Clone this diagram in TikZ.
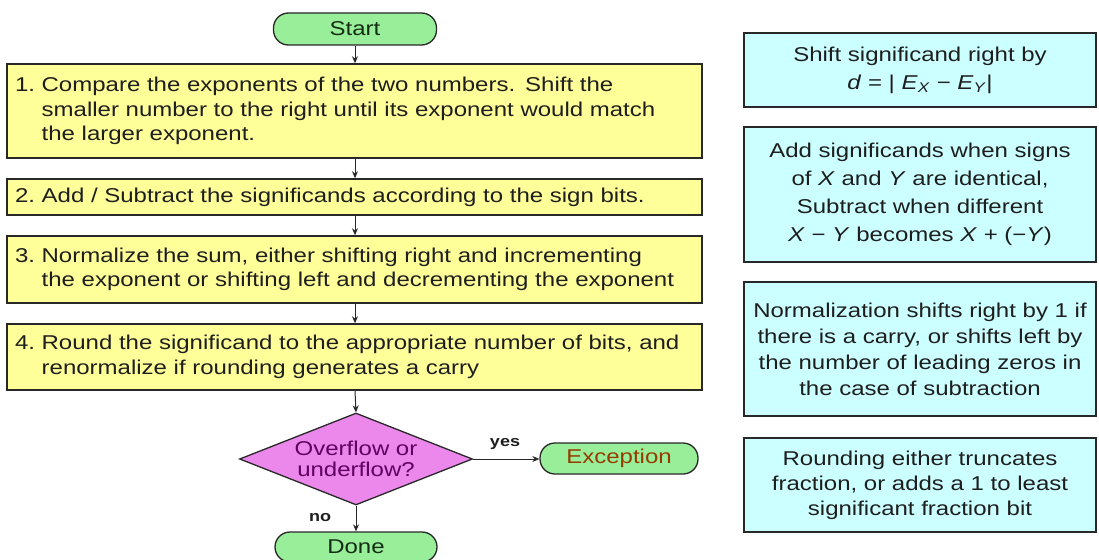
\documentclass[tikz,border=0pt]{standalone}
\usepackage{fontspec}
\setmainfont{Liberation Sans}[FakeStretch=1.2]
\usetikzlibrary{shapes.geometric,arrows.meta}
\definecolor{linec}{RGB}{40,40,40}
\definecolor{yfill}{RGB}{255,255,153}
\definecolor{cfill}{RGB}{204,255,255}
\definecolor{gfill}{RGB}{153,238,153}
\definecolor{pfill}{RGB}{236,136,236}
\definecolor{ptext}{RGB}{96,0,96}
\definecolor{etext}{RGB}{150,60,0}
\definecolor{gtext}{RGB}{20,45,20}
\definecolor{btext}{RGB}{30,30,30}
\begin{document}
\begin{tikzpicture}[x=1pt,y=-1pt,
  term/.style={draw=linec, line width=1.3pt, fill=gfill, rounded corners=15pt, inner sep=0pt, text=gtext, font=\fontsize{20}{24}\selectfont},
  ybox/.style={draw=linec, line width=1.5pt, fill=yfill, align=left, text width=679pt, inner xsep=8pt, inner ysep=0pt, text=btext, font=\fontsize{20}{24.5}\selectfont},
  cbox/.style={draw=linec, line width=1.5pt, fill=cfill, align=center, minimum width=352pt, inner sep=0pt, text=btext},
  dec/.style={draw=linec, line width=1.3pt, fill=pfill, diamond, shape aspect=2.53, inner sep=0pt, minimum width=233pt, minimum height=92pt, align=center, text=ptext, font=\fontsize{20}{21}\selectfont},
  lbl/.style={text=btext, font=\fontsize{15}{18}\selectfont\bfseries, inner sep=0pt},
  arr/.style={-{Stealth[length=7pt,width=6pt]}, line width=1pt, draw=linec}
]
\useasboundingbox (0,0) rectangle (1099,559);
\fill[white] (0,0) rectangle (1099,559);

\node[term, minimum width=163pt, minimum height=32pt] (start) at (355,29) {Start};

\node[ybox, minimum height=94pt] (s1) at (354.5,111) {1.\ Compare the exponents of the two numbers. Shift the\\\phantom{1.}\ smaller number to the right until its exponent would match\\\phantom{1.}\ the larger exponent.};
\node[ybox, minimum height=36pt] (s2) at (354.5,197) {2.\ Add / Subtract the significands according to the sign bits.};
\node[ybox, minimum height=67pt] (s3) at (354.5,269.5) {3.\ Normalize the sum, either shifting right and incrementing\\\phantom{3.}\ the exponent or shifting left and decrementing the exponent};
\node[ybox, minimum height=66pt] (s4) at (354.5,357) {4.\ Round the significand to the appropriate number of bits, and\\\phantom{4.}\ renormalize if rounding generates a carry};

\node[dec] (dec) at (356,459) {Overflow or\\underflow?};
\node[term, minimum width=158pt, minimum height=31pt, text=etext] (exc) at (619,458.5) {Exception};
\node[term, minimum width=162pt, minimum height=30pt] (done) at (356,547) {Done};

\node[lbl] (yes) at (505,444) {yes};
\node[lbl] (no) at (320,518) {no};

\draw[arr] (start.south) -- (start.south |- s1.north);
\draw[arr] (start.south |- s1.south) -- (start.south |- s2.north);
\draw[arr] (start.south |- s2.south) -- (start.south |- s3.north);
\draw[arr] (start.south |- s3.south) -- (start.south |- s4.north);
\draw[arr] (start.south |- s4.south) -- (dec.north);
\draw[arr] (dec.east) -- (dec.east -| exc.west);
\draw[arr] (dec.south) -- (dec.south |- done.north);

\node[cbox, minimum height=74pt, font=\fontsize{20}{28}\selectfont] (na) at (920,70) {Shift significand right by\\\textit{d} = |\ \textit{E}\textsubscript{\textit{X}} − \textit{E}\textsubscript{\textit{Y}}|};
\node[cbox, minimum height=135pt, font=\fontsize{20}{28}\selectfont] (nb) at (920,194.5) {Add significands when signs\\of \textit{X} and \textit{Y} are identical,\\Subtract when different\\\textit{X} − \textit{Y} becomes \textit{X} + (−\textit{Y})};
\node[cbox, minimum height=134pt, font=\fontsize{20}{26}\selectfont] (nc) at (920,349) {Normalization shifts right by 1 if\\there is a carry, or shifts left by\\the number of leading zeros in\\the case of subtraction};
\node[cbox, minimum height=94pt, font=\fontsize{20}{25}\selectfont] (nd) at (920,485) {Rounding either truncates\\fraction, or adds a 1 to least\\significant fraction bit};
\end{tikzpicture}
\end{document}
